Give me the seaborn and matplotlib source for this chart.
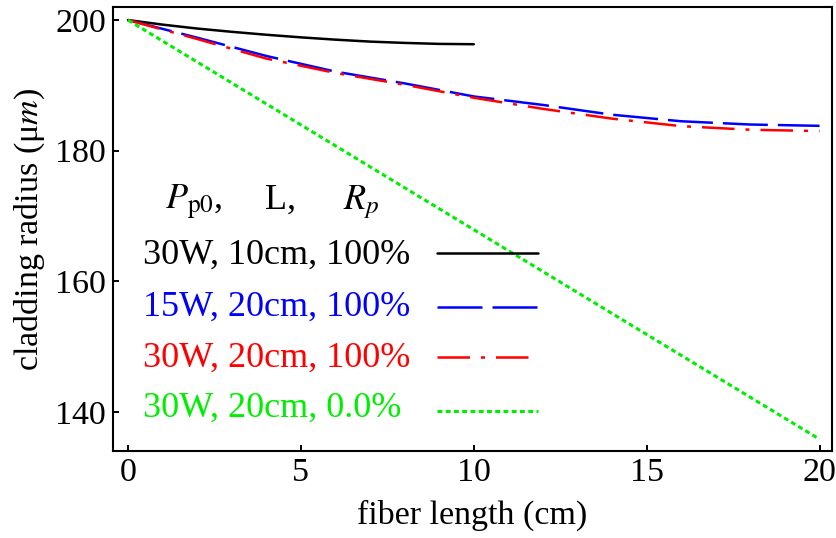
import numpy as np
import pandas as pd
import matplotlib
matplotlib.use("Agg")
import matplotlib.pyplot as plt
from matplotlib.lines import Line2D
import seaborn as sns

# fiber length (cm) and cladding radius (um)
x_black = [0, 1, 2, 3, 4, 5, 6, 7, 8, 9, 10]
r_black = [200.0, 199.3, 198.7, 198.2, 197.75, 197.35, 197.0, 196.7, 196.5, 196.35, 196.3]

x_long = [0, 2, 4, 6, 8, 10, 12, 14, 16, 18, 20]
r_blue = [200.0, 197.3, 194.5, 192.1, 190.3, 188.3, 187.0, 185.5, 184.5, 184.0, 183.8]
r_red = [200.0, 197.1, 194.1, 191.9, 190.1, 188.1, 186.4, 184.9, 183.75, 183.2, 183.0]

x_green = [0, 20]
r_green = [200.0, 135.8]

labels = ["30W, 10cm, 100%", "15W, 20cm, 100%", "30W, 20cm, 100%", "30W, 20cm, 0.0%"]
colors = ["black", "#0000ff", "#ff0000", "#00ee00"]

sns.set_style("ticks")
plt.rcParams.update({
    "font.family": ["Liberation Serif", "DejaVu Serif"],
    "mathtext.fontset": "stix",
    "text.color": "black",
    "axes.labelcolor": "black",
    "axes.edgecolor": "black",
    "xtick.color": "black",
    "ytick.color": "black",
})

W, H = 836, 538
fig = plt.figure(figsize=(W / 100, H / 100), dpi=100)
ax = fig.add_axes([113 / W, 1 - 451 / H, (832 - 113) / W, (451 - 7) / H])

styles = [
    dict(linestyle="-", linewidth=1.8),
    dict(linestyle=(0, (18, 4)), linewidth=1.8),
    dict(linestyle=(0, (13, 4.4, 1.6, 4.4)), linewidth=1.8),
    dict(linestyle=(0, (1.6, 1.1)), linewidth=2.2),
]
data = [(x_black, r_black), (x_long, r_blue), (x_long, r_red), (x_green, r_green)]
for (xs, ys), style, col in zip(data, styles, colors):
    df = pd.DataFrame({"length": xs, "radius": ys})
    sns.lineplot(data=df, x="length", y="radius", color=col, ax=ax, legend=False, **style)

ax.set_xlim(-0.434, 20.36)
ax.set_ylim(134.0, 202.0)
ax.set_xticks([0, 5, 10, 15, 20])
ax.set_yticks([140, 160, 180, 200])
ax.tick_params(direction="in", length=4.5, width=1.4, labelsize=24.5, pad=5,
               top=False, right=False)
for sp in ax.spines.values():
    sp.set_linewidth(1.5)

ax.set_xlabel("fiber length (cm)", fontsize=24.5, labelpad=8)
ax.set_ylabel("cladding radius (μ$m$)", fontsize=24.5, labelpad=6)

# legend header
fs = 26
fig.text(165 / W, 1 - 209 / H, r"$P_{\rm p0}$,", fontsize=fs, va="baseline")
fig.text(265 / W, 1 - 209 / H, "L,", fontsize=fs, va="baseline")
fig.text(343 / W, 1 - 209 / H, r"$R_p$", fontsize=fs, va="baseline")

# legend rows: coloured label on the left, line sample on the right
baselines = [264, 316, 367, 417]
sample_y = [253, 307, 357, 411]
for lab, col, style, yb, ys in zip(labels, colors, styles, baselines, sample_y):
    fig.text(143 / W, 1 - yb / H, lab, color=col, fontsize=fs, va="baseline")
    fig.add_artist(Line2D([437 / W, 538 / W], [1 - ys / H, 1 - ys / H],
                          transform=fig.transFigure, color=col, **style))

fig.savefig("out.png", dpi=100)
